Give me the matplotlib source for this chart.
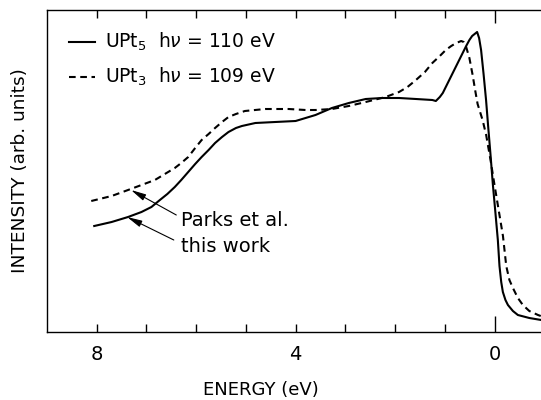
import matplotlib
matplotlib.use("Agg")
import matplotlib.pyplot as plt
from matplotlib.ticker import FixedLocator

plt.rcParams['font.family'] = ['DejaVu Sans']

# UPt5, this work (solid)
e_upt5 = [8.05, 7.7, 7.37, 7.1, 6.9, 6.73, 6.58, 6.43, 6.3, 6.16, 6.02, 5.89, 5.75, 5.62,
          5.48, 5.35, 5.2, 5.08, 4.81, 4.41, 4.0, 3.8, 3.6, 3.27, 2.93, 2.59, 2.26, 1.92,
          1.58, 1.25, 1.18, 1.1, 1.04, 0.94, 0.84, 0.74, 0.64, 0.57, 0.505, 0.45, 0.40,
          0.35, 0.31, 0.27, 0.22, 0.17, 0.13, 0.08, 0.034, -0.017, -0.067, -0.10, -0.135,
          -0.168, -0.22, -0.27, -0.37, -0.47, -0.7, -0.94]
i_upt5 = [106, 110, 115, 120, 125, 132, 138, 145, 152, 160, 168, 175, 182, 189,
          195, 200, 204, 206, 209, 210, 211, 214, 217, 224, 229, 233, 234, 234,
          233, 232, 231, 235, 239, 249, 259, 269, 279, 286, 292, 296, 298,
          300, 294, 282, 258, 232, 207, 177, 148, 120, 92, 66, 50,
          40, 32, 27, 21, 17, 14, 12]

# UPt3, Parks et al. (dashed)
e_upt3 = [8.11, 7.7, 7.37, 7.1, 6.83, 6.63, 6.43, 6.3, 6.16, 6.02, 5.89, 5.75, 5.62,
          5.48, 5.35, 5.2, 5.02, 4.61, 4.14, 3.8, 3.6, 3.27, 2.93, 2.59, 2.19, 1.92, 1.75,
          1.58, 1.4, 1.25, 1.1, 0.98, 0.87, 0.77, 0.67, 0.62, 0.57, 0.505, 0.44, 0.39,
          0.34, 0.24, 0.168, 0.08, 0.0, -0.09, -0.17, -0.236, -0.30, -0.37, -0.47,
          -0.57, -0.7, -0.875, -0.93]
i_upt3 = [131, 136, 142, 147, 152, 158, 164, 169, 175, 184, 192, 198, 204,
          210, 215, 218, 221, 223, 223, 222, 222, 223, 226, 230, 235, 240, 245,
          252, 260, 269, 276, 282, 286, 289, 291, 290, 285, 274, 257, 242,
          228, 212, 197, 172, 147, 120, 96, 66, 52, 44, 34,
          27, 21, 17, 16]

xticks_major = [8, 4, 0]
xticks_minor = [8, 7, 6, 5, 4, 3, 2, 1, 0]
xtick_labels = ['8', '4', '0']

DASH = (0, (3.2, 2.2))

fig = plt.figure(figsize=(5.41, 4.0), dpi=100)
ax = fig.add_axes([47/541, (400-332)/400, 1 - 47/541, (332-10)/400])

ax.plot(e_upt5, i_upt5, color='black', lw=1.5)
ax.plot(e_upt3, i_upt3, color='black', lw=1.5, ls=DASH)

ax.set_xlim(9.0, -0.935)
ax.set_ylim(0, 322)

ax.spines['right'].set_visible(False)
for s in ['left', 'bottom', 'top']:
    ax.spines[s].set_linewidth(1.0)

ax.xaxis.set_major_locator(FixedLocator(xticks_major))
ax.xaxis.set_minor_locator(FixedLocator(xticks_minor))
ax.set_xticklabels(xtick_labels)
ax.tick_params(axis='x', which='both', direction='in', top=True, bottom=True, width=1.0)
ax.tick_params(axis='x', which='major', length=5.8, labelsize=14, pad=9)
ax.tick_params(axis='x', which='minor', length=5.8)
ax.set_yticks([])

# longer tick at 0
t0 = ax.xaxis.get_major_ticks()[2]
t0.tick1line.set_markersize(11.5)
t0.tick2line.set_markersize(9.5)

ax.text(4.7, -58, 'ENERGY (eV)', ha='center', va='center', fontsize=13)
fig.text(20/541, 1 - 171/400, 'INTENSITY (arb. units)', rotation=90, ha='center',
         va='center', fontsize=13.3)

# legend
ax.plot([8.55, 8.04], [290, 290], color='black', lw=1.5)
ax.plot([8.55, 8.04], [255, 255], color='black', lw=1.5, ls=DASH)
ax.text(7.84, 290, r'UPt$_5$  h$\nu$ = 110 eV', ha='left', va='center', fontsize=13.5)
ax.text(7.84, 255, r'UPt$_3$  h$\nu$ = 109 eV', ha='left', va='center', fontsize=13.5)

# annotations
arrow = dict(arrowstyle='-|>,head_length=0.9,head_width=0.2',
             color='black', lw=0.8, shrinkA=0, shrinkB=0)
ax.annotate('', xy=(7.31, 142), xytext=(6.40, 117), arrowprops=arrow)
ax.annotate('', xy=(7.39, 115), xytext=(6.45, 92), arrowprops=arrow)
ax.text(6.30, 112, 'Parks et al.', ha='left', va='center', fontsize=14)
ax.text(6.30, 86, 'this work', ha='left', va='center', fontsize=14)

fig.savefig('out.png', dpi=100)
